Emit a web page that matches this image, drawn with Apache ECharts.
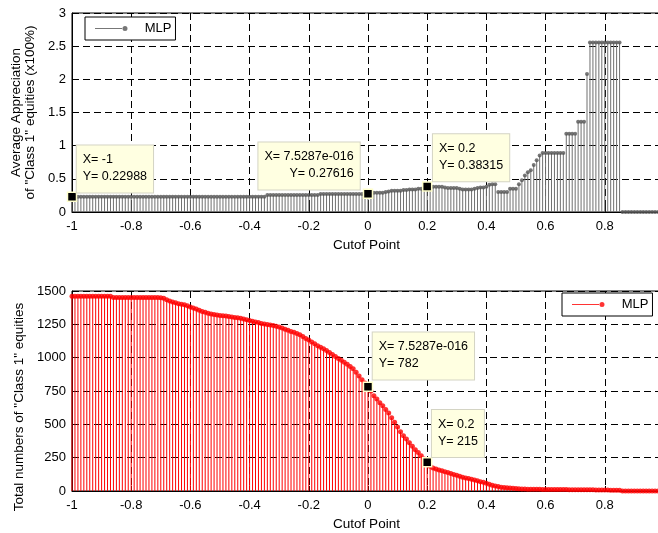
<!DOCTYPE html>
<html><head><meta charset="utf-8">
<script src="https://cdn.jsdelivr.net/npm/echarts@6/dist/echarts.min.js"></script>
<style>html,body{margin:0;padding:0;overflow:hidden;background:#fff}#c{width:662px;height:533px}</style>
</head><body><div id="c"></div><script>
// cutoff points -1 .. 0.99 step 0.01
const cutoffs = Array.from({length: 200}, (_, i) => Math.round((-1 + i * 0.01) * 100) / 100);

// Average appreciation of "Class 1" equities (x100%)
const avgAppreciation = [
  0.22988,0.23,0.23,0.23,0.23,0.23,0.23,0.23,0.23,0.23,
  0.23,0.23,0.23,0.23,0.23,0.23,0.23,0.23,0.23,0.23,
  0.23,0.23,0.23,0.23,0.23,0.23,0.23,0.23,0.23,0.23,
  0.23,0.23,0.23,0.23,0.23,0.23,0.23,0.23,0.23,0.23,
  0.23,0.23,0.23,0.23,0.23,0.23,0.23,0.23,0.23,0.23,
  0.23,0.23,0.23,0.23,0.23,0.23,0.23,0.23,0.23,0.23,
  0.23,0.23,0.23,0.23,0.23,0.23,0.255,0.255,0.255,0.255,
  0.255,0.255,0.255,0.255,0.255,0.255,0.255,0.255,0.255,0.255,
  0.255,0.255,0.255,0.255,0.27,0.27,0.27,0.27,0.27,0.27,
  0.27,0.27,0.27,0.27,0.27,0.27,0.27,0.27,0.27,0.27,
  0.27616,0.28,0.29,0.29,0.29,0.29,0.30,0.31,0.32,0.32,
  0.32,0.32,0.33,0.33,0.34,0.34,0.34,0.35,0.35,0.36,
  0.38315,0.38,0.38,0.38,0.38,0.38,0.37,0.36,0.36,0.36,
  0.36,0.35,0.34,0.34,0.34,0.34,0.35,0.36,0.37,0.37,
  0.38,0.41,0.42,0.42,0.30,0.30,0.30,0.30,0.35,0.35,
  0.35,0.42,0.48,0.55,0.60,0.63,0.71,0.78,0.85,0.89,
  0.89,0.89,0.89,0.89,0.89,0.89,0.89,1.18,1.18,1.18,
  1.18,1.36,1.36,1.36,2.08,2.555,2.555,2.555,2.555,2.555,
  2.555,2.555,2.555,2.555,2.555,2.555,0,0,0,0,
  0,0,0,0,0,0,0,0,0,0
];

// Total numbers of "Class 1" equities
const classOneCount = [
  1460,1460,1460,1460,1460,1460,1460,1460,1460,1460,
  1460,1460,1460,1460,1452,1452,1452,1452,1452,1452,
  1452,1452,1452,1452,1452,1452,1452,1452,1452,1452,
  1450,1445,1435,1425,1418,1412,1405,1400,1396,1390,
  1380,1372,1365,1356,1347,1340,1334,1328,1324,1320,
  1317,1315,1312,1308,1305,1302,1299,1296,1290,1285,
  1279,1273,1268,1263,1257,1252,1249,1245,1241,1236,
  1230,1222,1214,1205,1197,1190,1181,1172,1158,1144,
  1132,1118,1104,1090,1078,1066,1054,1038,1023,1008,
  993,980,965,950,934,917,890,862,835,810,
  782,750,715,690,662,640,612,585,550,515,
  480,445,415,390,362,335,310,288,265,240,
  215,185,172,165,158,152,145,138,131,124,
  118,110,104,98,93,88,82,77,70,65,
  58,50,44,38,33,29,26,24,22,20,
  18,16,15,15,14,14,13,13,13,12,
  12,12,12,11,11,11,11,11,10,10,
  10,10,10,10,9,9,9,8,8,8,
  7,7,6,6,5,5,0,0,0,0,
  0,0,0,0,0,0,0,0,0,0
];

// data tips
const tipsTop = [
  {x: -1, y: 0.22988, text: 'X= -1\nY= 0.22988'},
  {x: 0, y: 0.27616, text: 'X= 7.5287e-016\nY= 0.27616'},
  {x: 0.2, y: 0.38315, text: 'X= 0.2\nY= 0.38315'}
];
const tipsBottom = [
  {x: 0, y: 782, text: 'X= 7.5287e-016\nY= 782'},
  {x: 0.2, y: 215, text: 'X= 0.2\nY= 215'}
];

const seriesName = 'MLP';
const topAxisName = 'Average Appreciation\nof "Class 1" equities (x100%)';
const bottomAxisName = 'Total numbers of "Class 1" equities';
const xAxisName = 'Cutof Point';

const F = '"Liberation Sans", Arial, sans-serif';
const topPairs = cutoffs.map((x, i) => [x, avgAppreciation[i]]);
const botPairs = cutoffs.map((x, i) => [x, classOneCount[i]]);

const tipLabelBase = {
  show: true, color: '#000', fontSize: 12.5, fontFamily: F, lineHeight: 17,
  backgroundColor: '#ffffe1', borderColor: '#d4d4c4', borderWidth: 1,
  padding: [6, 6, 7, 6]
};
function tipData(tips, layouts) {
  return tips.map((t, i) => ({
    coord: [t.x, t.y],
    label: Object.assign({}, tipLabelBase, {formatter: t.text, position: layouts[i].pos, align: layouts[i].align || 'left'})
  }));
}
const markStyle = {symbol: 'rect', symbolSize: 9, itemStyle: {color: '#000', borderColor: '#ffffcc', borderWidth: 1.5}};

function xAx(gi) {
  return {
    type: 'value', gridIndex: gi, min: -1, max: 0.99, interval: 0.2,
    name: xAxisName, nameLocation: 'middle', nameGap: 26,
    nameTextStyle: {fontSize: 13.5, color: '#000', fontFamily: F},
    axisLine: {onZero: false, lineStyle: {color: '#000'}},
    axisTick: {inside: true, length: 5, lineStyle: {color: '#000'}},
    axisLabel: {color: '#000', fontSize: 13, fontFamily: F, margin: 8, showMaxLabel: false},
    splitLine: {show: true, lineStyle: {color: '#000', type: [7, 4], width: 1}}
  };
}
function yAx(gi, max, interval, name, gap, pad) {
  return {
    type: 'value', gridIndex: gi, min: 0, max: max, interval: interval,
    name: name, nameLocation: 'middle', nameGap: gap,
    nameTextStyle: {fontSize: 13.5, color: '#000', fontFamily: F, lineHeight: 14, padding: pad},
    axisLine: {show: true, onZero: false, lineStyle: {color: '#000'}},
    axisTick: {show: true, inside: true, length: 5, lineStyle: {color: '#000'}},
    axisLabel: {color: '#000', fontSize: 13, fontFamily: F, margin: 6, formatter: v => String(v)},
    splitLine: {show: true, lineStyle: {color: '#000', type: [7, 4], width: 1}}
  };
}
const legendIcon = 'path://M0,2L28,2L28,3L0,3Z M27.5,2.5A2.5,2.5,0,1,0,32.5,2.5A2.5,2.5,0,1,0,27.5,2.5Z';
function legendAt(left, top, name) {
  return {
    data: [name], left: left, top: top, orient: 'horizontal',
    backgroundColor: '#fff', borderColor: '#000', borderWidth: 1, borderRadius: 0,
    padding: [5, 4, 5, 10], itemWidth: 33, itemHeight: 5, icon: legendIcon,
    formatter: () => seriesName,
    textStyle: {fontSize: 13, color: '#000', fontFamily: F, padding: [0, 0, 0, 12]},
    selectedMode: false
  };
}

const chart = echarts.init(document.getElementById('c'), null, {renderer: 'canvas'});
chart.setOption({
  animation: false,
  backgroundColor: '#fff',
  grid: [
    {left: 72, top: 13, width: 589, height: 199, show: true, borderColor: '#000', borderWidth: 1, backgroundColor: 'transparent'},
    {left: 72, top: 291, width: 589, height: 200, show: true, borderColor: '#000', borderWidth: 1, backgroundColor: 'transparent'}
  ],
  xAxis: [xAx(0), xAx(1)],
  yAxis: [
    yAx(0, 3, 0.5, topAxisName, 33, [0, 0, 0, 0]),
    yAx(1, 1500, 250, bottomAxisName, 46, [0, 32, 0, 0])
  ],
  legend: [legendAt(85, 17, 'top'), legendAt(562, 293, 'bottom')],
  series: [
    {type: 'bar', name: 'topStem', xAxisIndex: 0, yAxisIndex: 0, data: topPairs, barWidth: 1, silent: true,
     itemStyle: {color: '#707070'}},
    {type: 'scatter', name: 'top', xAxisIndex: 0, yAxisIndex: 0, data: topPairs, symbol: 'circle', symbolSize: 4,
     itemStyle: {color: '#555'}, silent: true,
     markPoint: Object.assign({}, markStyle, {data: tipData(tipsTop, [
       {pos: [10, -46]}, {pos: [-3, -46], align: 'right'}, {pos: [11, -47]}
     ])})},
    {type: 'bar', name: 'bottomStem', xAxisIndex: 1, yAxisIndex: 1, data: botPairs, barWidth: 1, silent: true,
     itemStyle: {color: '#ff0000'}},
    {type: 'scatter', name: 'bottom', xAxisIndex: 1, yAxisIndex: 1, data: botPairs, symbol: 'circle', symbolSize: 5,
     itemStyle: {color: '#ff0000'}, silent: true,
     markPoint: Object.assign({}, markStyle, {data: tipData(tipsBottom, [
       {pos: [10, -49]}, {pos: [10, -47]}
     ])})}
  ]
});
</script></body></html>
